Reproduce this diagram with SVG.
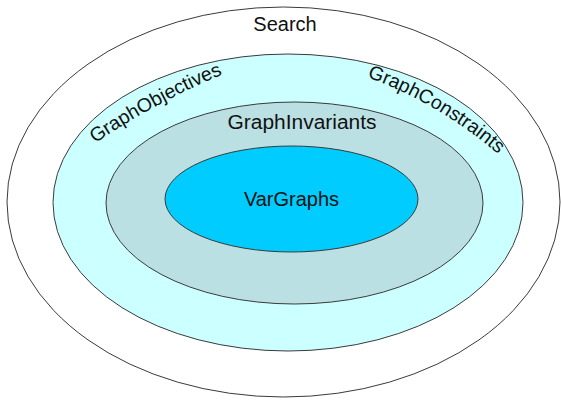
<svg xmlns="http://www.w3.org/2000/svg" width="561" height="401" viewBox="0 0 561 401">
  <style>
    .ring { stroke: #3a3a3a; stroke-width: 1; }
    .lbl { font-family: "Liberation Sans", Arial, sans-serif; font-size: 20px; fill: #111; }
    .arc { font-size: 19.5px; }
  </style>
  <defs>
    <path id="arcObj" d="M 95 143.3 A 725 725 0 0 1 250 63.6"/>
    <path id="arcCon" d="M 367 77 A 430 430 0 0 1 519.1 173.2"/>
  </defs>
  <rect width="561" height="401" fill="#ffffff"/>
  <g id="search">
    <ellipse class="ring" cx="283.5" cy="202" rx="276.5" ry="195" fill="#ffffff"/>
    <text class="lbl" x="285" y="31" text-anchor="middle">Search</text>
  </g>
  <g id="objectives-constraints">
    <ellipse class="ring" cx="288" cy="202.5" rx="235" ry="148.5" fill="#CCFFFF"/>
    <text class="lbl arc"><textPath href="#arcObj">GraphObjectives</textPath></text>
    <text class="lbl arc"><textPath href="#arcCon">GraphConstraints</textPath></text>
  </g>
  <g id="invariants">
    <ellipse class="ring" cx="294.5" cy="203" rx="188.5" ry="101" fill="#BBE0E3"/>
    <text class="lbl" x="302" y="129" text-anchor="middle" textLength="149" lengthAdjust="spacingAndGlyphs">GraphInvariants</text>
  </g>
  <g id="vargraphs">
    <ellipse class="ring" cx="291.5" cy="199" rx="126.5" ry="53" fill="#00CCFF"/>
    <text class="lbl" x="291.5" y="206" text-anchor="middle">VarGraphs</text>
  </g>
</svg>
